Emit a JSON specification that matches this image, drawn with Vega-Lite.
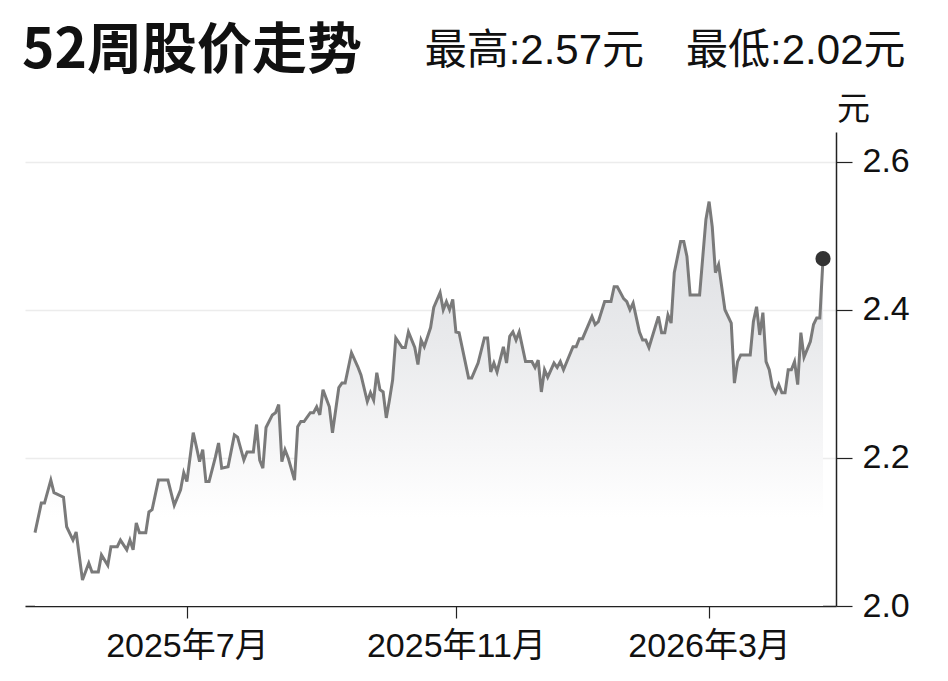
{
  "$schema": "https://vega.github.io/schema/vega-lite/v6.json",
  "width": 811,
  "height": 474,
  "autosize": {"type": "none"},
  "padding": {"left": 25, "top": 132, "right": 112, "bottom": 75},
  "background": "white",
  "config": {"view": {"stroke": null}, "font": "Liberation Sans, Noto Sans CJK SC"},
  "title": {
    "text": "52周股价走势",
    "anchor": "start",
    "frame": "group",
    "font": "Noto Sans CJK SC",
    "fontSize": 55,
    "fontWeight": "bold",
    "color": "#111111",
    "baseline": "alphabetic",
    "dx": -3,
    "dy": 98
  },
  "datasets": {
    "px": [
      {"n": 0, "p": 2.099}, {"n": 2, "p": 2.139}, {"n": 3, "p": 2.139}, {"n": 5, "p": 2.170}, {"n": 6, "p": 2.153},
      {"n": 9, "p": 2.147}, {"n": 10, "p": 2.107}, {"n": 12, "p": 2.089}, {"n": 13, "p": 2.100}, {"n": 15, "p": 2.035},
      {"n": 17, "p": 2.058}, {"n": 18, "p": 2.046}, {"n": 20, "p": 2.046}, {"n": 21, "p": 2.069}, {"n": 23, "p": 2.055},
      {"n": 24, "p": 2.080}, {"n": 26, "p": 2.080}, {"n": 27, "p": 2.089}, {"n": 29, "p": 2.076}, {"n": 30, "p": 2.089},
      {"n": 31, "p": 2.076}, {"n": 32, "p": 2.112}, {"n": 33, "p": 2.099}, {"n": 35, "p": 2.099}, {"n": 36, "p": 2.127},
      {"n": 37, "p": 2.130}, {"n": 39, "p": 2.170}, {"n": 42, "p": 2.170}, {"n": 44, "p": 2.136}, {"n": 46, "p": 2.157},
      {"n": 47, "p": 2.180}, {"n": 48, "p": 2.168}, {"n": 50, "p": 2.234}, {"n": 51, "p": 2.215}, {"n": 52, "p": 2.195},
      {"n": 53, "p": 2.211}, {"n": 54, "p": 2.168}, {"n": 55, "p": 2.168}, {"n": 57, "p": 2.201}, {"n": 58, "p": 2.220},
      {"n": 59, "p": 2.186}, {"n": 61, "p": 2.188}, {"n": 63, "p": 2.231}, {"n": 64, "p": 2.228}, {"n": 66, "p": 2.197},
      {"n": 67, "p": 2.208}, {"n": 69, "p": 2.208}, {"n": 70, "p": 2.245}, {"n": 71, "p": 2.197}, {"n": 72, "p": 2.186},
      {"n": 73, "p": 2.241}, {"n": 75, "p": 2.258}, {"n": 76, "p": 2.261}, {"n": 77, "p": 2.272}, {"n": 78, "p": 2.195},
      {"n": 79, "p": 2.211}, {"n": 80, "p": 2.200}, {"n": 82, "p": 2.170}, {"n": 83, "p": 2.242}, {"n": 84, "p": 2.249},
      {"n": 85, "p": 2.249}, {"n": 87, "p": 2.261}, {"n": 88, "p": 2.261}, {"n": 89, "p": 2.269}, {"n": 90, "p": 2.258},
      {"n": 91, "p": 2.292}, {"n": 93, "p": 2.269}, {"n": 94, "p": 2.234}, {"n": 96, "p": 2.295}, {"n": 97, "p": 2.301},
      {"n": 98, "p": 2.301}, {"n": 100, "p": 2.342}, {"n": 102, "p": 2.323}, {"n": 103, "p": 2.312}, {"n": 105, "p": 2.276},
      {"n": 106, "p": 2.288}, {"n": 107, "p": 2.278}, {"n": 108, "p": 2.315}, {"n": 109, "p": 2.292}, {"n": 110, "p": 2.289},
      {"n": 111, "p": 2.254}, {"n": 112, "p": 2.278}, {"n": 113, "p": 2.305}, {"n": 114, "p": 2.362}, {"n": 116, "p": 2.349},
      {"n": 117, "p": 2.349}, {"n": 118, "p": 2.370}, {"n": 120, "p": 2.349}, {"n": 121, "p": 2.326}, {"n": 122, "p": 2.359},
      {"n": 123, "p": 2.350}, {"n": 125, "p": 2.376}, {"n": 126, "p": 2.403}, {"n": 128, "p": 2.423}, {"n": 129, "p": 2.400},
      {"n": 130, "p": 2.411}, {"n": 131, "p": 2.400}, {"n": 132, "p": 2.414}, {"n": 133, "p": 2.370}, {"n": 134, "p": 2.369},
      {"n": 137, "p": 2.308}, {"n": 138, "p": 2.308}, {"n": 140, "p": 2.328}, {"n": 142, "p": 2.362}, {"n": 143, "p": 2.362},
      {"n": 144, "p": 2.316}, {"n": 145, "p": 2.328}, {"n": 146, "p": 2.316}, {"n": 148, "p": 2.350}, {"n": 149, "p": 2.328},
      {"n": 150, "p": 2.364}, {"n": 151, "p": 2.370}, {"n": 152, "p": 2.359}, {"n": 153, "p": 2.370}, {"n": 155, "p": 2.330},
      {"n": 157, "p": 2.330}, {"n": 158, "p": 2.322}, {"n": 159, "p": 2.332}, {"n": 160, "p": 2.289}, {"n": 161, "p": 2.319},
      {"n": 162, "p": 2.309}, {"n": 164, "p": 2.328}, {"n": 165, "p": 2.322}, {"n": 166, "p": 2.330}, {"n": 167, "p": 2.319},
      {"n": 170, "p": 2.350}, {"n": 171, "p": 2.350}, {"n": 172, "p": 2.361}, {"n": 173, "p": 2.361}, {"n": 176, "p": 2.391},
      {"n": 177, "p": 2.380}, {"n": 178, "p": 2.384}, {"n": 180, "p": 2.411}, {"n": 182, "p": 2.411}, {"n": 183, "p": 2.431},
      {"n": 184, "p": 2.431}, {"n": 186, "p": 2.415}, {"n": 187, "p": 2.411}, {"n": 188, "p": 2.400}, {"n": 189, "p": 2.409},
      {"n": 191, "p": 2.370}, {"n": 192, "p": 2.359}, {"n": 193, "p": 2.359}, {"n": 194, "p": 2.349}, {"n": 197, "p": 2.391},
      {"n": 198, "p": 2.369}, {"n": 199, "p": 2.369}, {"n": 200, "p": 2.393}, {"n": 201, "p": 2.382}, {"n": 202, "p": 2.450},
      {"n": 204, "p": 2.492}, {"n": 205, "p": 2.492}, {"n": 206, "p": 2.472}, {"n": 207, "p": 2.420}, {"n": 210, "p": 2.420},
      {"n": 212, "p": 2.522}, {"n": 213, "p": 2.546}, {"n": 214, "p": 2.512}, {"n": 215, "p": 2.450}, {"n": 216, "p": 2.461},
      {"n": 218, "p": 2.400}, {"n": 220, "p": 2.382}, {"n": 221, "p": 2.301}, {"n": 222, "p": 2.330}, {"n": 223, "p": 2.339},
      {"n": 226, "p": 2.339}, {"n": 227, "p": 2.384}, {"n": 228, "p": 2.404}, {"n": 229, "p": 2.366}, {"n": 230, "p": 2.396},
      {"n": 231, "p": 2.330}, {"n": 232, "p": 2.319}, {"n": 233, "p": 2.296}, {"n": 234, "p": 2.288}, {"n": 235, "p": 2.299},
      {"n": 236, "p": 2.288}, {"n": 237, "p": 2.288}, {"n": 238, "p": 2.319}, {"n": 239, "p": 2.319}, {"n": 240, "p": 2.330},
      {"n": 241, "p": 2.299}, {"n": 242, "p": 2.369}, {"n": 243, "p": 2.336}, {"n": 245, "p": 2.357}, {"n": 246, "p": 2.380},
      {"n": 247, "p": 2.389}, {"n": 248, "p": 2.389}, {"n": 249, "p": 2.469}
    ]
  },
  "data": {"name": "px"},
  "layer": [
    {
      "mark": {
        "type": "area",
        "color": {
          "gradient": "linear",
          "x1": 0, "y1": 0, "x2": 0, "y2": 1,
          "stops": [
            {"offset": 0, "color": "#dcdde1"},
            {"offset": 0.35, "color": "#e9eaec"},
            {"offset": 0.6, "color": "#f6f6f7"},
            {"offset": 0.78, "color": "#ffffff"},
            {"offset": 1, "color": "#ffffff"}
          ]
        }
      },
      "encoding": {
        "x": {
          "field": "n", "type": "quantitative",
          "scale": {"domain": [-3.16, 253.1], "nice": false, "zero": false},
          "axis": {
            "orient": "top", "labels": false, "ticks": false, "domain": false, "grid": false,
            "title": "最高:2.57元　最低:2.02元",
            "titleFont": "Liberation Sans, Noto Sans CJK SC", "titleFontSize": 42, "titleFontWeight": "normal",
            "titleColor": "#111111", "titleAnchor": "end", "titleAlign": "right",
            "titleX": 880, "titleY": -69, "titleBaseline": "alphabetic"
          }
        },
        "y": {
          "field": "p", "type": "quantitative",
          "scale": {"domain": [2.0, 2.64], "nice": false, "zero": false},
          "axis": {
            "orient": "right", "values": [2.0, 2.2, 2.4, 2.6], "format": ".1f",
            "title": "元", "titleAngle": 0, "titleX": 17, "titleY": -13, "titleAlign": "center",
            "titleBaseline": "alphabetic", "titleFontSize": 33, "titleFontWeight": "normal",
            "titleFont": "Noto Sans CJK SC", "titleColor": "#111111",
            "labelFont": "Liberation Sans", "labelFontSize": 34, "labelColor": "#111111", "labelPadding": 10,
            "tickSize": 16, "tickColor": "#222222", "tickWidth": 1.2,
            "domainColor": "#222222", "domainWidth": 1.5,
            "grid": true, "gridColor": "#ececec", "gridWidth": 1.5
          }
        },
        "y2": {"datum": 2.0}
      }
    },
    {
      "mark": {"type": "line", "color": "#7a7a7a", "strokeWidth": 3},
      "encoding": {
        "x": {
          "field": "n", "type": "quantitative",
          "axis": {
            "orient": "bottom", "values": [48, 133, 213],
            "labelExpr": "datum.value == 48 ? '2025年7月' : datum.value == 133 ? '2025年11月' : '2026年3月'",
            "title": null, "grid": false, "labelFlush": false,
            "labelFont": "Liberation Sans, Noto Sans CJK SC", "labelFontSize": 34, "labelColor": "#111111",
            "labelPadding": 11, "tickSize": 12, "tickColor": "#222222", "tickWidth": 1.2,
            "domainColor": "#222222", "domainWidth": 1.5
          }
        },
        "y": {"field": "p", "type": "quantitative"}
      }
    },
    {
      "transform": [{"filter": "datum.n == 249"}],
      "mark": {"type": "point", "filled": true, "color": "#333333", "size": 230, "opacity": 1},
      "encoding": {
        "x": {"field": "n", "type": "quantitative", "axis": null},
        "y": {"field": "p", "type": "quantitative"}
      }
    }
  ],
  "resolve": {"axis": {"x": "independent"}}
}
